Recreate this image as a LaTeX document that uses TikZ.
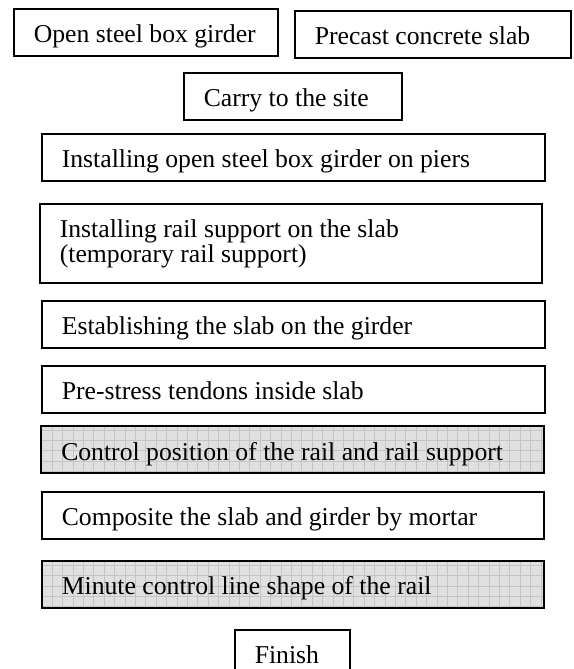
\documentclass[tikz,border=0pt]{standalone}
\usepackage{fontspec}
\usepackage{tikz}
\usetikzlibrary{patterns.meta}
\newfontfamily\boxfont{Liberation Serif}
\definecolor{stGray}{RGB}{224,224,224}
\definecolor{stGrid}{RGB}{196,196,196}
\tikzset{
    base/.style={font=\boxfont\fontsize{25.7}{23}\selectfont, align=flush left},
    stepbox/.style={base, rectangle, draw=black, line width=1.6pt, anchor=north west,
                    inner xsep=20pt, inner ysep=0pt, minimum height=47pt,
                    text height=24pt, text depth=3pt, text width=#1},
    stepgray/.style={stepbox=#1, preaction={fill=stGray},
                     pattern={Hatch[angle=0, distance=10.4pt, line width=0.5pt]},
                     pattern color=stGrid}
}

\begin{document}
\begin{tikzpicture}[x=1pt, y=-1pt]
  \useasboundingbox (0,0) rectangle (573,669);
  \clip (0,0) rectangle (573,669);

  % Materials
  \node[stepbox=224pt] (girder) at (13,8) {Open steel box girder};
  \node[stepbox=236pt] (slab) at (294,10) {Precast concrete slab};
  \node[stepbox=178pt] (carry) at (183,72) {Carry to the site};

  % Erection steps
  \node[stepbox=462pt, minimum height=79pt, text depth=35pt] (railsup) at (39,203)
    {Installing rail support on the slab\\(temporary rail support)};
  \node[stepbox=463pt] (piers) at (41,133) {Installing open steel box girder on piers};
  \node[stepbox=463pt] (establish) at (41,300) {Establishing the slab on the girder};
  \node[stepbox=463pt] (tendon) at (41,365) {Pre-stress tendons inside slab};
  \node[stepgray=463pt] (control) at (41,426) {Control position of the rail and rail support};
  \node[stepbox=462pt] (mortar) at (41,491) {Composite the slab and girder by mortar};
  \node[stepgray=462pt] (minute) at (41,560) {Minute control line shape of the rail};

  % End
  \node[stepbox=75pt] (finish) at (234,629) {Finish};
\end{tikzpicture}
\end{document}
